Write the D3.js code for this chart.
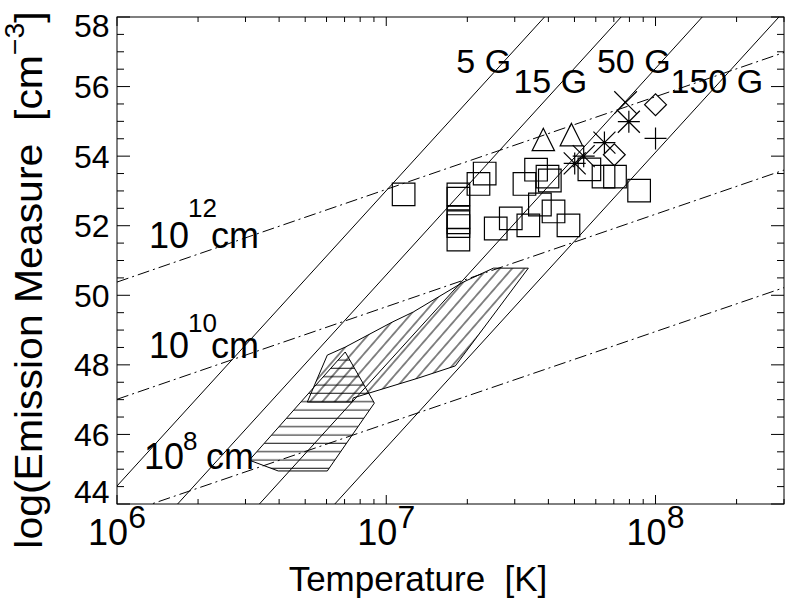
<!DOCTYPE html>
<html><head><meta charset="utf-8">
<script src="https://cdn.jsdelivr.net/npm/d3@7"></script>
<style>
body{margin:0;background:#fff}
text{font-family:"Liberation Sans",Arial,Helvetica,sans-serif;fill:#000}
</style>
</head><body>
<svg id="c" width="786" height="600"></svg>
<script>
// ---------------- data ----------------
const yTickValues = [44, 46, 48, 50, 52, 54, 56, 58];
const xTickExponents = [6, 7, 8];

// constant-field lines (T in K, log EM) : endpoints
const fieldLabels = ["5 G", "15 G", "50 G", "150 G"];
const fieldT  = [[8.69e5, 3.87e7], [1.679e6, 7.45e7], [3.38e6, 1.491e8], [6.44e6, 2.873e8]];
const fieldEM = [[44, 58], [44, 58], [44, 58], [44, 58]];
const fieldLabelT  = [1.82e7, 2.966e7, 6.06e7, 1.137e8];
const fieldLabelEM = [56.39, 55.815, 56.39, 55.815];

// constant-length lines
const loopExp = ["8", "10", "12"];
const loopT = [1e6, 3e8];
const loopEM = [[43.66, 50.22], [47.01, 53.60], [50.38, 56.98]];
const loopLabelT  = [1.26e6, 1.315e6, 1.315e6];
const loopLabelEM = [45.01, 48.20, 51.36];

// hatched regions
const regionAT  = [5.09e6, 6.04e6, 7.04e6, 1.053e7, 1.26e7, 1.933e7, 2.50e7, 3.37e7, 1.805e7, 1.315e7, 7.54e6, 7.47e6];
const regionAEM = [46.93, 48.28, 48.51, 49.23, 49.52, 50.38, 50.78, 50.78, 47.97, 47.62, 47.05, 46.93];
const regionBT  = [7.04e6, 9.03e6, 6.04e6, 3.97e6, 3.10e6];
const regionBEM = [48.37, 46.90, 44.95, 44.95, 45.26];

// symbols
const squareT  = [1.16e7, 1.853e7, 1.853e7, 1.853e7, 1.853e7, 1.853e7, 1.853e7,
                  2.32e7, 2.20e7, 3.60e7, 3.26e7, 3.97e7, 4.05e7, 5.68e7, 6.41e7, 7.07e7, 8.69e7,
                  3.72e7, 4.18e7, 2.90e7, 3.37e7, 2.55e7, 4.75e7];
const squareEM = [52.90, 52.90, 52.78, 52.24, 52.10, 51.99, 51.60,
                  53.50, 53.20, 53.61, 53.20, 53.41, 53.30, 53.62, 53.41, 53.41, 53.01,
                  52.61, 52.41, 52.21, 52.01, 51.92, 52.01];
const triangleT  = [3.83e7, 4.87e7];
const triangleEM = [54.48, 54.62];
const diamondT  = [1.0e8, 7.03e7];
const diamondEM = [55.48, 54.04];
const crossT  = [7.74e7];
const crossEM = [55.54];
const plusT  = [1.0e8];
const plusEM = [54.51];
const starT  = [7.96e7, 6.46e7, 5.41e7, 5.01e7];
const starEM = [54.99, 54.39, 54.00, 53.79];

// ---------------- chart ----------------
const L = 117, R = 784, T = 17, B = 504;
const svg = d3.select("#c");
const x = d3.scaleLog().domain([1e6, 3e8]).range([L, R]);
const y = d3.scaleLinear().domain([44, 58]).range([B, T]);

const defs = svg.append("defs");
defs.append("clipPath").attr("id", "clip").append("rect")
  .attr("x", L).attr("y", T).attr("width", R - L).attr("height", B - T);

// horizontal hatch
const hH = 8.33;
const pH = defs.append("pattern").attr("id", "hatchH").attr("patternUnits", "userSpaceOnUse")
  .attr("x", 0).attr("y", 6.2).attr("width", 50).attr("height", hH);
pH.append("line").attr("x1", 0).attr("x2", 50).attr("y1", 4).attr("y2", 4)
  .attr("stroke", "#000").attr("stroke-width", 1);
// diagonal hatch
const hD = 9.3;
const pD = defs.append("pattern").attr("id", "hatchD").attr("patternUnits", "userSpaceOnUse")
  .attr("width", 50).attr("height", hD).attr("patternTransform", "rotate(-49)");
pD.append("line").attr("x1", 0).attr("x2", 50).attr("y1", hD / 2).attr("y2", hD / 2)
  .attr("stroke", "#000").attr("stroke-width", 1);

const plot = svg.append("g").attr("clip-path", "url(#clip)");

const poly = (ts, ems) => ts.map((t, i) => [x(t), y(ems[i])].join(",")).join(" ");
plot.append("polygon").attr("points", poly(regionBT, regionBEM))
  .attr("fill", "url(#hatchH)").attr("stroke", "#000").attr("stroke-width", 1);
plot.append("polygon").attr("points", poly(regionAT, regionAEM))
  .attr("fill", "url(#hatchD)").attr("stroke", "#000").attr("stroke-width", 1);

const line = d3.line().x(d => x(d[0])).y(d => y(d[1]));
fieldT.forEach((ts, i) => {
  plot.append("path").attr("d", line(ts.map((t, j) => [t, fieldEM[i][j]])))
    .attr("fill", "none").attr("stroke", "#000").attr("stroke-width", 1);
});
loopEM.forEach(ems => {
  plot.append("path").attr("d", line(loopT.map((t, j) => [t, ems[j]])))
    .attr("fill", "none").attr("stroke", "#000").attr("stroke-width", 1)
    .attr("stroke-dasharray", "12,4,2,4");
});

// symbols
const sym = {
  square: h => `M${-h},${-h}H${h}V${h}H${-h}Z`,
  triangle: h => `M${-h},${h}L0,${-h}L${h},${h}Z`,
  diamond: h => `M${-h},0L0,${-h}L${h},0L0,${h}Z`,
  cross: h => `M${-h},${-h}L${h},${h}M${-h},${h}L${h},${-h}`,
  plus: h => `M${-h},0H${h}M0,${-h}V${h}`,
  star: h => `M${-h},0H${h}M0,${-h}V${h}M${-h},${-h}L${h},${h}M${-h},${h}L${h},${-h}`
};
function drawSymbols(ts, ems, kind, h) {
  plot.append("g").selectAll("path").data(ts.map((t, i) => [t, ems[i]])).join("path")
    .attr("transform", d => `translate(${x(d[0])},${y(d[1])})`)
    .attr("d", sym[kind](h)).attr("fill", "none").attr("stroke", "#000").attr("stroke-width", 1.2);
}
drawSymbols(squareT, squareEM, "square", 11.3);
drawSymbols(triangleT, triangleEM, "triangle", 11.2);
drawSymbols(diamondT, diamondEM, "diamond", 10.9);
drawSymbols(crossT, crossEM, "cross", 11.3);
drawSymbols(plusT, plusEM, "plus", 11);
drawSymbols(starT, starEM, "star", 11);

// labels in plot
fieldLabels.forEach((s, i) => {
  svg.append("text").attr("x", x(fieldLabelT[i])).attr("y", y(fieldLabelEM[i]))
    .attr("font-size", 34).text(s);
});
loopExp.forEach((e, i) => {
  const ax = x(loopLabelT[i]), ay = y(loopLabelEM[i]);
  const up = [19, 26, 31][i];
  svg.append("text").attr("x", ax).attr("y", ay).attr("font-size", 36).text("10");
  svg.append("text").attr("x", ax + 39).attr("y", ay - up).attr("font-size", 26).text(e);
  svg.append("text").attr("x", ax + 62).attr("y", ay).attr("font-size", 36).text("cm");
});

// frame
svg.append("rect").attr("x", L).attr("y", T).attr("width", R - L).attr("height", B - T)
  .attr("fill", "none").attr("stroke", "#000").attr("stroke-width", 1);

// ticks
const tk = svg.append("g").attr("stroke", "#000").attr("stroke-width", 1);
d3.range(44, 58.01, 0.5).forEach(v => {
  const major = Math.abs(v - Math.round(v / 2) * 2) < 1e-6;
  const len = major ? 13 : 7;
  tk.append("line").attr("x1", L).attr("x2", L + len).attr("y1", y(v)).attr("y2", y(v));
  tk.append("line").attr("x1", R).attr("x2", R - len).attr("y1", y(v)).attr("y2", y(v));
});
const xt = [];
[1e6, 1e7, 1e8].forEach(d => { for (let k = 1; k <= 9; k++) if (d * k <= 3e8) xt.push([d * k, k === 1]); });
xt.forEach(([t, major]) => {
  const len = major ? 9 : 5;
  tk.append("line").attr("x1", x(t)).attr("x2", x(t)).attr("y1", B).attr("y2", B - len);
  tk.append("line").attr("x1", x(t)).attr("x2", x(t)).attr("y1", T).attr("y2", T + len);
});

// tick labels
yTickValues.forEach(v => {
  const by = Math.max(T + 20, Math.min(B - 1, y(v) + 11.5));
  svg.append("text").attr("x", 109.5).attr("y", by).attr("text-anchor", "end")
    .attr("font-size", 32).text(v);
});
xTickExponents.forEach(e => {
  const t = svg.append("text").attr("x", x(Math.pow(10, e))).attr("y", 545)
    .attr("text-anchor", "middle").attr("font-size", 36);
  t.append("tspan").text("10");
  t.append("tspan").attr("dy", -17).attr("font-size", 32).text(e);
});

// axis titles
svg.append("text").attr("x", 418).attr("y", 591).attr("text-anchor", "middle")
  .attr("font-size", 35).attr("xml:space", "preserve").text("Temperature  [K]");
const yt = svg.append("text").attr("transform", "translate(42,280) rotate(-90) scale(1.05,1)")
  .attr("text-anchor", "middle").attr("font-size", 39).attr("xml:space", "preserve");
yt.append("tspan").text("log(Emission Measure  [cm");
yt.append("tspan").attr("dy", -18).attr("font-size", 27).text("\u22123");
yt.append("tspan").attr("dy", 18).text("]");
</script>
</body></html>
